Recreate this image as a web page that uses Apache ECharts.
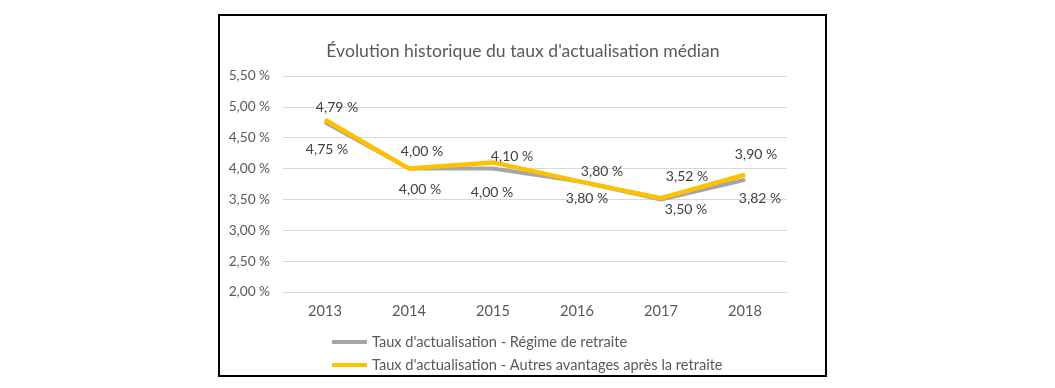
<!DOCTYPE html>
<html>
<head>
<meta charset="utf-8">
<script src="https://cdn.jsdelivr.net/npm/echarts@6/dist/echarts.min.js"></script>
<style>
html,body{margin:0;padding:0;background:#fff;}
#c{width:1055px;height:388px;}
</style>
</head>
<body>
<div id="c"></div>
<script>
const categories = ['2013', '2014', '2015', '2016', '2017', '2018'];
const regimeRetraite = [4.75, 4.00, 4.00, 3.80, 3.50, 3.82];
const autresAvantages = [4.79, 4.00, 4.10, 3.80, 3.52, 3.90];
const seriesNames = ["Taux d'actualisation - Régime de retraite", "Taux d'actualisation - Autres avantages après la retraite"];
const titleText = "Évolution historique du taux d'actualisation médian";
const yMin = 2.0, yMax = 5.5, yStep = 0.5;

// label placement (layout only)
const greyLabelOffsets = [[2, 27], [11, 21], [-1, 24], [10, 18], [25, 10], [15, 19]];
const yellowLabelOffsets = [[12, -12], [13, -17], [19, -6], [25, -9], [26, -22], [11, -20]];

const FONT = 'Lato';
const fmt = v => v.toFixed(2).replace('.', ',') + '\u202f%';

function buildData(values, offsets) {
  return values.map((v, i) => ({
    value: v,
    label: { offset: offsets[i] }
  }));
}

const chart = echarts.init(document.getElementById('c'), null, { renderer: 'canvas' });
chart.setOption({
  animation: false,
  backgroundColor: '#fff',
  title: {
    text: titleText,
    left: 518, textAlign: 'center',
    top: 37,
    textStyle: { fontFamily: FONT, fontSize: 17.6, fontWeight: 'normal', color: '#595959' }
  },
  graphic: [{
    type: 'rect',
    shape: { x: 219, y: 15, width: 607, height: 361 },
    style: { fill: 'none', stroke: '#000', lineWidth: 2 },
    silent: true
  }],
  grid: { left: 283, right: 268, top: 76, bottom: 96 },
  legend: {
    orient: 'vertical',
    left: 332, top: 334, padding: 0,
    itemWidth: 35, itemHeight: 4, itemGap: 7,
    icon: 'rect',
    textStyle: { fontFamily: FONT, fontSize: 14.6, lineHeight: 16, color: '#595959' },
    data: seriesNames
  },
  xAxis: {
    type: 'category',
    data: categories,
    boundaryGap: true,
    axisLine: { show: true, lineStyle: { color: '#D9D9D9', width: 1 } },
    axisTick: { show: false },
    axisLabel: { fontFamily: FONT, fontSize: 14.6, color: '#595959', margin: 12 }
  },
  yAxis: {
    type: 'value',
    min: yMin, max: yMax, interval: yStep,
    axisLine: { show: false },
    axisTick: { show: false },
    splitLine: { lineStyle: { color: '#D9D9D9', width: 1 } },
    axisLabel: { fontFamily: FONT, fontSize: 13.7, color: '#595959', margin: 13, formatter: v => fmt(v) }
  },
  series: [
    {
      name: seriesNames[0],
      type: 'line',
      data: buildData(regimeRetraite, greyLabelOffsets),
      lineStyle: { color: '#A5A5A5', width: 4 },
      itemStyle: { color: '#A5A5A5' },
      symbol: 'circle', symbolSize: 1, showSymbol: true,
      label: {
        show: true, position: 'inside', align: 'center', verticalAlign: 'middle',
        fontFamily: FONT, fontSize: 14, color: '#404040',
        formatter: p => fmt(p.value)
      },
      z: 2
    },
    {
      name: seriesNames[1],
      type: 'line',
      data: buildData(autresAvantages, yellowLabelOffsets),
      lineStyle: { color: '#FFC000', width: 4.5 },
      itemStyle: { color: '#FFC000' },
      symbol: 'circle', symbolSize: 1, showSymbol: true,
      label: {
        show: true, position: 'inside', align: 'center', verticalAlign: 'middle',
        fontFamily: FONT, fontSize: 14, color: '#404040',
        formatter: p => fmt(p.value)
      },
      z: 3
    }
  ]
});
</script>
</body>
</html>
